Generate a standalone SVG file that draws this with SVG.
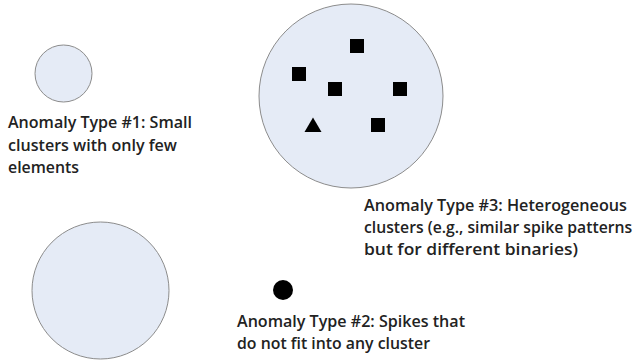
<svg xmlns="http://www.w3.org/2000/svg" width="639" height="363" viewBox="0 0 639 363">
  <style>
    .cluster { fill: #e5ebf6; stroke: #8c8c8c; stroke-width: 1; }
    .pt { fill: #000; }
    .lbl { font-family: "Open Sans", "Noto Sans", "Liberation Sans", sans-serif; font-size: 17px; font-weight: 600; fill: #222; }
  </style>
  <rect width="639" height="363" fill="#fff"/>

  <!-- small cluster -->
  <g id="cluster-small">
    <circle class="cluster" cx="63.5" cy="73.5" r="28.5"/>
  </g>

  <!-- heterogeneous cluster with mixed elements -->
  <g id="cluster-mixed">
    <circle class="cluster" cx="351" cy="96" r="92"/>
    <rect class="pt" x="350" y="39" width="14" height="14"/>
    <rect class="pt" x="292" y="67" width="14" height="14"/>
    <rect class="pt" x="328" y="82" width="14" height="14"/>
    <rect class="pt" x="393" y="82" width="14" height="14"/>
    <rect class="pt" x="371" y="118" width="14" height="14"/>
    <polygon class="pt" points="313,117.5 321.5,132 304.5,132"/>
  </g>

  <!-- large normal cluster -->
  <g id="cluster-large">
    <circle class="cluster" cx="100.5" cy="290.5" r="68.5"/>
  </g>

  <!-- isolated spike -->
  <g id="spike">
    <circle class="pt" cx="283" cy="290" r="10"/>
  </g>

  <g id="label-type1">
    <text class="lbl" x="8" y="128" textLength="184" lengthAdjust="spacingAndGlyphs">Anomaly Type #1: Small</text>
    <text class="lbl" x="8" y="151" textLength="169" lengthAdjust="spacingAndGlyphs">clusters with only few</text>
    <text class="lbl" x="8" y="173" textLength="71" lengthAdjust="spacingAndGlyphs">elements</text>
  </g>

  <g id="label-type3">
    <text class="lbl" x="364" y="211" textLength="263" lengthAdjust="spacingAndGlyphs">Anomaly Type #3: Heterogeneous</text>
    <!-- widest line: horizontally condensed so it stays inside the frame -->
    <text class="lbl" transform="translate(364 233) scale(0.9 1)" x="0" y="0" textLength="298" lengthAdjust="spacingAndGlyphs">clusters (e.g., similar spike patterns</text>
    <text class="lbl" x="364" y="255" textLength="214" lengthAdjust="spacingAndGlyphs">but for different binaries)</text>
  </g>

  <g id="label-type2">
    <text class="lbl" x="237" y="327" textLength="228" lengthAdjust="spacingAndGlyphs">Anomaly Type #2: Spikes that</text>
    <text class="lbl" x="237" y="349" textLength="193" lengthAdjust="spacingAndGlyphs">do not fit into any cluster</text>
  </g>

  <g id="connectors"/>
</svg>
